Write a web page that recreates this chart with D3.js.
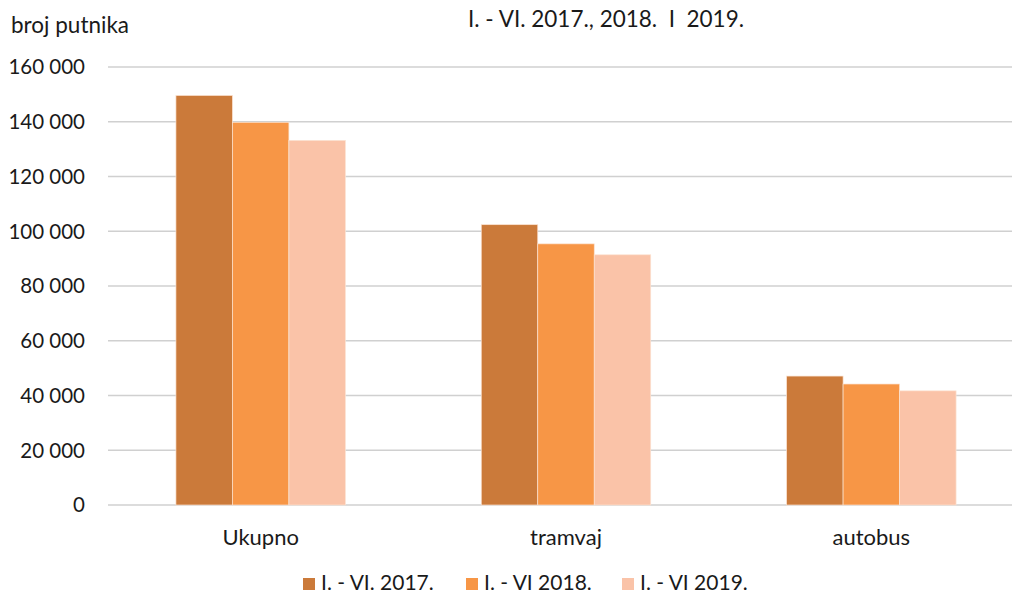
<!DOCTYPE html>
<html lang="hr">
<head>
<meta charset="UTF-8">
<title>broj putnika</title>
<style>
body { margin: 0; background: #fff; }
text { font-family: Lato, "Open Sans", sans-serif; fill: #1a1a1a; }
</style>
</head>
<body>
<script src="https://d3js.org/d3.v7.min.js"></script>
<script>
// podaci
var categories = ["Ukupno", "tramvaj", "autobus"];
var seriesNames = ["I. - VI. 2017.", "I. - VI 2018.", "I. - VI 2019."];
var v2017 = [149600, 102400, 47100];
var v2018 = [139800, 95400, 44200];
var v2019 = [133200, 91400, 41700];
var yTicks = [0, 20000, 40000, 60000, 80000, 100000, 120000, 140000, 160000];
var colors = ["#CB7A3A", "#F79646", "#FAC3A8"];

var W = 1012, H = 594;
var svg = d3.select("body").append("svg").attr("width", W).attr("height", H);

var x0 = d3.scaleBand().domain(categories).range([108, 1024]).paddingInner(0.445).paddingOuter(0.2225);
var x1 = d3.scaleBand().domain(d3.range(3)).range([0, x0.bandwidth()]);
var y = d3.scaleLinear().domain([0, 160000]).range([505, 67]);

var fmt = function(d){ return d3.format(",")(d).replace(/,/g, " "); };

// mreža
svg.selectAll(".grid").data(yTicks).enter().append("line")
	.attr("x1", 108).attr("x2", 1024)
	.attr("y1", function(d){ return y(d); })
	.attr("y2", function(d){ return y(d); })
	.attr("stroke", "#d0d0d0").attr("stroke-width", 1.5);

svg.selectAll(".ylab").data(yTicks).enter().append("text")
	.attr("x", 85).attr("y", function(d){ return y(d); })
	.attr("dy", "0.36em").attr("text-anchor", "end")
	.style("font-size", "20.5px")
	.text(fmt);

var series = [v2017, v2018, v2019];
series.forEach(function(vals, i){
	svg.selectAll(".bar" + i).data(vals).enter().append("rect")
		.attr("x", function(d, j){ return x0(categories[j]) + x1(i); })
		.attr("y", function(d){ return y(d); })
		.attr("width", x1.bandwidth())
		.attr("height", function(d){ return y(0) - y(d); })
		.attr("fill", colors[i])
		.attr("stroke", "#fbe3d2").attr("stroke-width", 0.7);
});

svg.selectAll(".xlab").data(categories).enter().append("text")
	.attr("x", function(d){ return x0(d) + x0.bandwidth() / 2; })
	.attr("y", 545).attr("text-anchor", "middle")
	.style("font-size", "22px")
	.text(function(d){ return d; });

svg.append("text").attr("x", 11).attr("y", 33).style("font-size", "22.5px").text("broj putnika");
svg.append("text").attr("x", 606).attr("y", 27).attr("text-anchor", "middle")
	.style("font-size", "22.5px").style("white-space", "pre")
	.text("I. - VI. 2017., 2018.  I  2019.");

// legenda
var legX = [303, 466, 622];
var leg = svg.selectAll(".leg").data(seriesNames).enter().append("g")
	.attr("transform", function(d, i){ return "translate(" + legX[i] + ",578)"; });
leg.append("rect").attr("width", 12).attr("height", 12)
	.attr("fill", function(d, i){ return colors[i]; });
leg.append("text").attr("x", 18).attr("y", 12)
	.style("font-size", "21px").text(function(d){ return d; });
</script>
</body>
</html>
